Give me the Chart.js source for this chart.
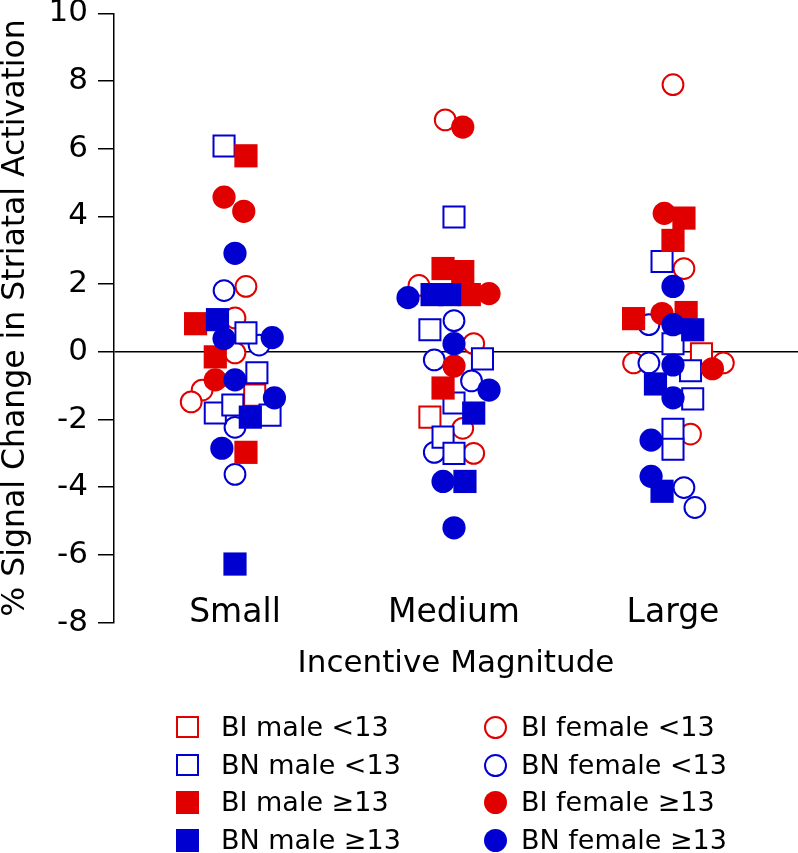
<!DOCTYPE html>
<html>
<head>
<meta charset="utf-8">
<script src="https://cdn.jsdelivr.net/npm/chart.js@4/dist/chart.umd.min.js"></script>
<style>
  html, body { margin: 0; padding: 0; background: #ffffff; }
  #wrap { position: relative; width: 798px; height: 853px; overflow: hidden; }
  #chart { position: absolute; left: 0; top: 0; }
  #legend { position: absolute; left: 0; top: 0; width: 798px; height: 853px; pointer-events: none;
            font-family: "DejaVu Sans", sans-serif; font-size: 27px; color: #000; }
  .mk { position: absolute; box-sizing: border-box; }
  .lt { position: absolute; white-space: nowrap; line-height: 30px; height: 30px; }
</style>
</head>
<body>
<div id="wrap">
  <canvas id="chart" width="798" height="853"></canvas>
  <div id="legend"></div>
</div>
<script>
// ---- data (x = category position 1..3 incl. read-off horizontal jitter, y = % signal change) ----
const categories = ['Small', 'Medium', 'Large'];
const yTicks = [-8, -6, -4, -2, 0, 2, 4, 6, 8, 10];

const biMaleLt13X = [1.09, 1.89, 3.13];
const biMaleLt13Y = [-1.28, -1.93, -0.06];

const bnMaleLt13X = [0.95, 1.05, 1.10, 0.91, 0.99, 1.16,
                     2.00, 1.89, 2.13, 2.00, 1.95, 2.00,
                     2.95, 3.00, 3.08, 3.09, 3.00, 3.00];
const bnMaleLt13Y = [6.08, 0.56, -0.62, -1.81, -1.57, -1.87,
                     3.98, 0.65, -0.21, -1.51, -2.52, -3.00,
                     2.67, 0.24, -0.56, -1.39, -2.29, -2.88];

const biMaleGe13X = [1.05, 0.82, 0.91, 1.05,
                     1.95, 2.04, 2.07, 1.95,
                     3.05, 3.00, 3.06, 2.82];
const biMaleGe13Y = [5.79, 0.83, -0.15, -2.97,
                     2.46, 2.37, 1.69, -1.07,
                     3.95, 3.29, 1.16, 0.98];

const bnMaleGe13X = [0.92, 1.07, 1.00,
                     1.90, 1.98, 2.09, 2.05,
                     3.09, 2.92, 2.95];
const bnMaleGe13Y = [0.95, -1.93, -6.27,
                     1.69, 1.69, -1.81, -3.83,
                     0.65, -0.95, -4.12];

const biFemaleLt13X = [1.05, 1.00, 1.00, 0.85, 0.80,
                       1.96, 1.84, 2.09, 2.04, 2.09,
                       3.00, 3.05, 2.82, 3.23, 3.08];
const biFemaleLt13Y = [1.93, 1.00, -0.03, -1.13, -1.48,
                       6.85, 1.96, 0.24, -2.26, -3.00,
                       7.89, 2.46, -0.33, -0.33, -2.43];

const bnFemaleLt13X = [0.95, 1.11, 1.00, 1.00,
                       2.00, 1.91, 2.08, 1.91,
                       2.89, 2.89, 3.05, 3.10];
const bnFemaleLt13Y = [1.81, 0.20, -2.23, -3.62,
                       0.92, -0.24, -0.86, -2.97,
                       0.80, -0.33, -4.01, -4.60];

const biFemaleGe13X = [0.95, 1.04, 0.91,
                       2.04, 2.16, 2.00,
                       2.96, 2.95, 3.18];
const biFemaleGe13Y = [4.57, 4.15, -0.83,
                       6.64, 1.72, -0.42,
                       4.09, 1.13, -0.50];

const bnFemaleGe13X = [1.00, 0.95, 1.17, 1.00, 1.18, 0.94,
                       1.79, 2.00, 2.16, 1.95, 2.00,
                       3.00, 3.00, 3.00, 3.00, 2.90, 2.90];
const bnFemaleGe13Y = [2.91, 0.39, 0.42, -0.83, -1.36, -2.85,
                       1.60, 0.24, -1.13, -3.83, -5.20,
                       1.93, 0.80, -0.39, -1.36, -2.61, -3.68];

// ---- styling ----
const RED = '#e00000';
const BLUE = '#0000d0';
const FONT = '"DejaVu Sans", sans-serif';

function pts(xs, ys) { return xs.map((x, i) => ({ x: x, y: ys[i] })); }

function series(label, xs, ys, color, shape, filled, order) {
  const isRect = shape === 'rect';
  const r = isRect ? (filled ? 16.4 : 14.9) : (filled ? 11.6 : 10.4);
  return {
    label: label,
    data: pts(xs, ys),
    pointStyle: shape,
    pointRadius: r,
    pointHoverRadius: r,
    pointBackgroundColor: filled ? color : '#ffffff',
    pointBorderColor: color,
    pointBorderWidth: filled ? 0 : 2,
    showLine: false,
    clip: false,
    order: order,
    _shape: shape, _filled: filled, _color: color
  };
}

const datasets = [
  series('BI male <13',   biMaleLt13X,   biMaleLt13Y,   RED,  'rect',   false, 6),
  series('BN male <13',   bnMaleLt13X,   bnMaleLt13Y,   BLUE, 'rect',   false, 5),
  series('BI male \u226513',  biMaleGe13X,   biMaleGe13Y,   RED,  'rect',   true,  4),
  series('BN male \u226513',  bnMaleGe13X,   bnMaleGe13Y,   BLUE, 'rect',   true,  3),
  series('BI female <13', biFemaleLt13X, biFemaleLt13Y, RED,  'circle', false, 8),
  series('BN female <13', bnFemaleLt13X, bnFemaleLt13Y, BLUE, 'circle', false, 7),
  series('BI female \u226513', biFemaleGe13X, biFemaleGe13Y, RED,  'circle', true,  2),
  series('BN female \u226513', bnFemaleGe13X, bnFemaleGe13Y, BLUE, 'circle', true,  1)
];

const chart = new Chart(document.getElementById('chart'), {
  type: 'scatter',
  data: { datasets: datasets },
  options: {
    responsive: false,
    animation: false,
    devicePixelRatio: 1,
    layout: { autoPadding: false, padding: { top: 13.3, left: 0, right: 0, bottom: 174 } },
    plugins: { legend: { display: false }, tooltip: { enabled: false } },
    scales: {
      x: {
        type: 'linear',
        position: 'bottom',
        min: 0.4475,
        max: 3.5708,
        grid: { display: false, drawTicks: false },
        border: { display: false },
        afterBuildTicks: (s) => { s.ticks = categories.map((c, i) => ({ value: i + 1 })); },
        afterFit: (s) => { s.height = 56.4; s.paddingLeft = 0; s.paddingRight = 0; },
        ticks: {
          mirror: true,
          padding: -7.6,
          color: '#000',
          font: { family: FONT, size: 33, lineHeight: 1 },
          maxRotation: 0,
          autoSkip: false,
          callback: (v) => categories[Math.round(v) - 1]
        },
        title: {
          display: true,
          text: 'Incentive Magnitude',
          color: '#000',
          padding: 0,
          font: { family: FONT, size: 31, lineHeight: 1 }
        }
      },
      y: {
        type: 'linear',
        min: -8,
        max: 10,
        afterBuildTicks: (s) => { s.ticks = yTicks.map(v => ({ value: v })); },
        afterFit: (s) => { s.width = 114; s.paddingTop = 13.3; s.paddingBottom = 0; },
        grid: {
          display: true,
          drawOnChartArea: true,
          drawTicks: true,
          tickLength: 16,
          tickColor: '#000',
          tickWidth: 1.5,
          lineWidth: 1.5,
          color: (ctx) => (ctx.tick && ctx.tick.value === 0) ? '#000' : 'rgba(0,0,0,0)'
        },
        border: { display: true, color: '#000', width: 1.5 },
        ticks: {
          padding: 10,
          color: '#000',
          font: { family: FONT, size: 31, lineHeight: 1 },
          callback: (v) => String(v)
        },
        title: {
          display: true,
          text: '% Signal Change in Striatal Activation',
          color: '#000',
          padding: { top: 0.5, bottom: 0 },
          font: { family: FONT, size: 31.5, lineHeight: 1 }
        }
      }
    }
  }
});

// ---- HTML legend built from the datasets (two columns, four rows) ----
(function buildLegend() {
  const leg = document.getElementById('legend');
  const rowY = [727, 765, 802, 840];
  const cols = [{ mx: 187.5, tx: 221 }, { mx: 495, tx: 521 }];
  datasets.forEach((ds, i) => {
    const col = cols[i < 4 ? 0 : 1];
    const cy = rowY[i % 4];
    const m = document.createElement('div');
    m.className = 'mk';
    const size = ds._shape === 'rect' ? (ds._filled ? 23 : 22.5) : 23;
    m.style.width = size + 'px';
    m.style.height = size + 'px';
    m.style.left = (col.mx - size / 2) + 'px';
    m.style.top = (cy - size / 2) + 'px';
    m.style.background = ds._filled ? ds._color : '#ffffff';
    m.style.border = ds._filled ? 'none' : ('2px solid ' + ds._color);
    if (ds._shape === 'circle') m.style.borderRadius = '50%';
    leg.appendChild(m);
    const t = document.createElement('div');
    t.className = 'lt';
    t.textContent = ds.label;
    t.style.left = col.tx + 'px';
    t.style.top = (cy - 15) + 'px';
    leg.appendChild(t);
  });
})();
</script>
</body>
</html>
